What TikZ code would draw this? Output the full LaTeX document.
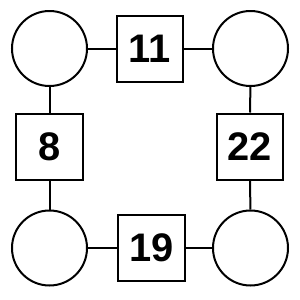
\documentclass[tikz,border=0pt]{standalone}
\usepackage{fontspec}
\setmainfont{Liberation Sans}
\usetikzlibrary{positioning}

\begin{document}
\begin{tikzpicture}[
  x=0.03cm, y=-0.03cm,
  circ/.style={draw, circle, line width=0.06cm, minimum size=2.25cm, inner sep=0pt},
  box/.style={draw, line width=0.06cm, minimum width=1.98cm, minimum height=1.98cm,
    inner sep=0pt, font=\fontsize{34}{34}\selectfont\bfseries},
  link/.style={line width=0.06cm}
]
\useasboundingbox (0,0) rectangle (300,300);
% corner circles
\node[circ] (tl) at (49.5,48.5) {};
\node[circ] (tr) at (250.5,48.5) {};
\node[circ] (bl) at (49.5,248) {};
\node[circ] (br) at (250.5,248) {};
% numbered boxes
\node[box] (top) at (150,48.5) {11};
\node[box] (lft) at (49.5,146.5) {8};
\node[box] (rgt) at (250,146.5) {22};
\node[box] (bot) at (151.5,248) {19};

\draw[link] (tl) -- (top);
\draw[link] (top) -- (tr);
\draw[link] (tl) -- (lft);
\draw[link] (lft) -- (bl);
\draw[link] (tr) -- (rgt);
\draw[link] (rgt) -- (br);
\draw[link] (bl) -- (bot);
\draw[link] (bot) -- (br);
\end{tikzpicture}
\end{document}
